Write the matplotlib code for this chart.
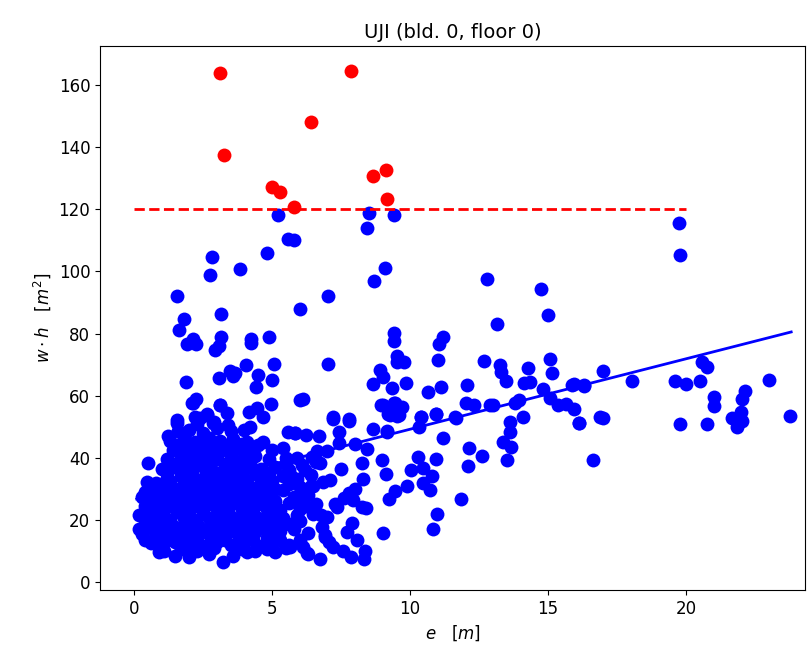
import matplotlib
matplotlib.use("Agg")
import matplotlib.pyplot as plt

# outliers above the threshold (red)
red_x = [3.10, 7.85, 6.41, 3.26, 5.00, 5.30, 5.80, 8.67, 9.14, 9.17]
red_y = [164.0, 164.5, 148.1, 137.5, 127.2, 125.7, 120.8, 130.7, 132.7, 123.3]

# sparse blue points
sparse_x = [5.22, 8.50, 8.45, 9.42, 5.58, 5.80, 2.82, 2.74, 3.83, 4.83, 1.56, 3.16, 1.81, 1.62,
            2.14, 1.93, 2.25, 3.16, 2.93, 3.08, 4.23, 4.25, 4.90, 6.01, 4.05, 5.07, 3.48, 3.66,
            3.60, 3.08, 4.50, 4.41, 5.01, 1.87, 2.24, 2.11, 3.10, 4.95, 6.01, 4.18, 4.47, 3.36,
            2.63, 2.21, 1.55, 4.69,
            9.09, 8.71, 7.02, 12.78, 9.40, 9.42, 11.18, 11.03, 9.52, 9.79, 9.54, 11.01, 12.69,
            7.03, 8.91, 9.01, 8.65, 9.35, 9.86, 10.66, 11.11, 12.05, 6.12, 8.93, 9.42, 9.70,
            12.03, 12.32, 12.90, 7.22, 7.80, 9.21, 9.52, 10.40, 10.94, 11.62,
            19.73, 19.78, 14.73, 14.99, 13.16, 15.07, 15.14, 13.26, 13.29, 13.47, 14.26, 14.13,
            14.35, 14.81, 15.07, 15.35, 15.64, 15.92, 15.95, 16.30, 17.00, 18.04, 16.12, 16.99,
            19.60, 19.99, 20.50, 20.57, 20.76, 19.77, 20.76, 20.99, 20.99, 22.13, 22.03, 22.00,
            21.67, 21.84, 22.02, 22.98, 23.77, 13.00, 13.80, 13.96, 14.10, 13.62, 13.60, 13.38,
            13.65, 13.50,
            9.01, 9.46, 9.28, 9.58, 9.16, 10.39, 10.34, 10.94, 11.67, 16.11, 15.86, 16.28, 16.62,
            16.88, 11.20, 12.15, 12.62, 12.09, 8.97, 9.13, 10.30, 10.94, 10.02, 10.48, 10.79,
            10.46, 10.72, 9.88, 9.46, 9.25, 11.84, 10.99, 10.82, 9.03,
            7.22, 7.80, 7.41, 5.83, 6.23, 6.71, 8.65, 9.16, 7.43, 8.00, 8.43, 6.64, 6.98, 6.44,
            6.74, 8.25, 7.10, 6.86, 7.79, 7.95, 8.25, 8.41, 7.34, 7.28, 6.76, 7.89, 7.71, 8.07,
            8.37, 8.33, 7.85, 7.58, 7.22, 6.80, 6.92, 7.08, 5.65, 6.26, 6.74, 6.01, 6.32, 6.13,
            0.52, 0.46, 1.24, 1.55, 2.13, 3.12, 2.39, 2.63, 2.87, 5.59, 5.83, 4.69, 4.32]
sparse_y = [118.2, 118.8, 114.0, 118.2, 110.4, 110.0, 104.5, 98.7, 100.7, 105.9, 92.0, 86.3, 84.6,
            81.1, 78.3, 76.5, 76.5, 79.0, 74.7, 76.0, 78.2, 77.0, 78.8, 87.9, 69.8, 70.2, 68.0,
            67.4, 66.3, 65.6, 66.5, 62.9, 65.0, 64.3, 58.8, 57.5, 57.0, 57.3, 58.6, 54.8, 55.9,
            54.3, 54.0, 53.2, 52.2, 53.2,
            101.2, 97.0, 92.0, 97.6, 80.1, 77.7, 78.8, 76.6, 72.8, 70.9, 70.9, 71.4, 71.2,
            70.3, 68.3, 66.1, 63.7, 62.4, 64.0, 61.1, 62.9, 63.5, 58.8, 57.1, 57.7, 56.2,
            57.5, 56.9, 57.0, 53.0, 52.6, 54.0, 53.4, 53.2, 54.1, 53.2,
            115.5, 105.2, 94.2, 86.1, 83.2, 71.8, 67.2, 69.9, 67.7, 64.8, 68.9, 64.0,
            64.3, 62.0, 59.1, 57.0, 57.3, 55.6, 63.7, 63.1, 67.9, 64.8, 51.3, 52.8,
            64.8, 63.7, 64.6, 70.9, 69.1, 51.0, 51.0, 59.5, 56.7, 61.4, 58.8, 54.7,
            52.8, 50.0, 51.9, 65.0, 53.5, 57.0, 57.5, 58.6, 53.2, 51.6, 48.4, 45.2,
            43.6, 39.3,
            57.0, 57.5, 53.8, 53.8, 48.4, 53.0, 50.0, 54.0, 52.7, 51.3, 63.4, 63.4, 39.3,
            53.0, 46.3, 43.0, 40.6, 37.3, 39.3, 34.7, 40.1, 39.6, 36.1, 36.6, 34.2,
            32.0, 29.6, 30.9, 29.3, 26.6, 26.6, 21.8, 17.0, 15.9,
            52.5, 51.8, 48.4, 48.1, 47.3, 47.0, 49.3, 48.6, 44.7, 44.3, 42.8, 42.0, 42.0, 40.3,
            38.2, 38.4, 32.8, 32.3, 28.6, 26.4, 24.0, 23.7, 24.2, 25.1, 21.6, 18.9, 16.2, 13.5,
            10.1, 7.3, 8.0, 9.8, 11.4, 17.8, 14.6, 12.7, 11.4, 9.2, 7.3, 13.5, 15.7, 11.4,
            38.4, 32.3, 47.0, 51.1, 57.5, 57.0, 52.7, 53.8, 51.1, 48.4, 47.9, 45.2, 42.0]

# dense cluster near the origin
dense_x = [0.9, 1.5, 2.0, 2.7, 3.24, 3.6, 4.1, 4.8, 5.5, 6.3,
           0.6, 1.0, 1.5, 2.0, 2.5, 3.0, 3.5, 4.0, 4.5, 5.0, 5.6,
           0.3, 0.8, 1.3, 1.7, 2.2, 2.6, 3.1, 3.5, 4.0, 4.4, 4.9, 5.3, 6.9,
           0.5, 0.9, 1.4, 1.9, 2.3, 2.8, 3.3, 3.7, 4.2, 4.6, 5.1, 5.6, 6.0,
           0.2, 0.7, 1.1, 1.6, 2.0, 2.5, 3.0, 3.4, 3.9, 4.3, 4.8, 5.2, 5.9, 6.5, 7.0,
           0.4, 0.9, 1.4, 1.8, 2.3, 2.7, 3.2, 3.6, 4.1, 4.5, 5.0, 5.6, 6.2, 6.6,
           0.3, 0.8, 1.2, 1.7, 2.1, 2.6, 3.0, 3.5, 3.9, 4.4, 4.8, 5.8, 6.3, 7.6,
           0.6, 1.0, 1.5, 2.0, 2.4, 2.9, 3.3, 3.8, 4.2, 4.7, 5.1, 5.6, 6.0, 6.5, 8.0,
           1.2, 1.7, 2.2, 2.6, 3.1, 3.5, 4.0, 4.5, 4.9, 5.4, 5.9, 6.4, 8.3,
           1.0, 1.4, 1.9, 2.4, 2.8, 3.3, 3.7, 4.2, 4.6, 5.1, 5.6, 6.1, 7.5,
           1.2, 1.7, 2.1, 2.6, 3.0, 3.5, 3.9, 4.4, 4.9, 5.5,
           1.4, 1.9, 2.3, 2.8, 3.2, 3.7, 4.3, 5.0, 5.4,
           1.3, 1.8, 2.2, 2.7, 3.1, 3.6, 4.1,
           1.6, 2.0, 2.5, 3.0, 3.5, 4.0,
           2.3, 2.9, 3.4, 4.2]
dense_y = [9.5, 8.5, 8.0, 9.0, 6.5, 8.5, 9.5, 10.5, 11.0, 9.0,
           12.5, 11.5, 13.0, 12.0, 11.5, 13.0, 12.0, 12.5, 11.5, 13.0, 12.0,
           15.5, 15.0, 16.0, 14.5, 15.5, 16.0, 15.0, 16.5, 15.0, 16.0, 15.5, 16.5, 15.0,
           18.5, 19.0, 18.0, 19.5, 18.5, 18.0, 19.0, 18.5, 19.5, 18.0, 19.0, 18.5, 19.5,
           21.5, 22.0, 21.0, 22.5, 21.5, 22.0, 21.0, 22.5, 21.5, 22.0, 21.0, 22.5, 21.5, 22.0, 21.0,
           24.5, 25.0, 24.0, 25.5, 24.5, 25.0, 24.0, 25.5, 24.5, 25.0, 24.0, 25.5, 24.5, 25.0,
           27.5, 28.0, 27.0, 28.5, 27.5, 28.0, 27.0, 28.5, 27.5, 28.0, 27.0, 27.5, 28.0, 27.0,
           30.5, 31.0, 30.0, 31.5, 30.5, 31.0, 30.0, 31.5, 30.5, 31.0, 30.0, 31.5, 30.5, 31.0, 30.0,
           33.5, 34.0, 33.0, 34.5, 33.5, 34.0, 33.0, 34.5, 33.5, 34.0, 33.0, 34.5, 33.0,
           36.5, 37.0, 36.0, 37.5, 36.5, 37.0, 36.0, 37.5, 36.5, 37.0, 36.0, 37.5, 36.5,
           39.5, 40.0, 39.0, 40.5, 39.5, 40.0, 39.0, 40.5, 39.5, 40.0,
           42.5, 43.0, 42.0, 43.5, 42.5, 43.0, 42.0, 42.5, 43.0,
           45.5, 46.0, 45.0, 46.5, 45.5, 46.0, 45.0,
           48.5, 49.0, 48.0, 49.5, 48.5, 49.0,
           51.0, 51.5, 50.5, 50.0]

# extra points filling the core of the cluster
core_x = [1.1, 1.7, 2.3, 2.9, 3.9, 4.4, 5.1,
          0.4, 0.8, 1.2, 1.8, 2.3, 2.8, 3.3, 3.8, 4.3, 4.8, 5.3,
          0.2, 0.6, 1.1, 1.6, 2.0, 2.4, 2.9, 3.3, 3.8, 4.2, 4.7, 5.2, 5.8,
          0.4, 0.9, 1.3, 1.8, 2.2, 2.7, 3.2, 3.6, 4.1, 4.5, 5.0, 5.4,
          0.6, 1.1, 1.6, 2.0, 2.5, 3.0, 3.4, 3.9, 4.3, 4.8, 5.3, 6.0,
          0.6, 1.0, 1.5, 1.9, 2.4, 2.9, 3.3, 3.8, 4.2, 4.7, 5.1, 6.0,
          0.4, 0.9, 1.3, 1.8, 2.2, 2.7, 3.1, 3.6, 4.0, 4.5, 5.0, 5.4,
          0.8, 1.3, 1.8, 2.3, 2.7, 3.2, 3.6, 4.1, 4.6, 5.0,
          1.2, 1.7, 2.1, 2.6, 3.0, 3.5, 3.9, 4.4, 4.9,
          1.5, 1.9, 2.4, 2.8, 3.3, 3.7, 4.2,
          1.7, 2.1, 2.6, 3.0, 3.5, 4.0,
          1.6, 2.0, 2.5, 2.9, 3.4, 3.9, 4.5,
          5.7, 6.2, 5.9, 6.4, 6.0, 5.5, 6.6]
core_y = [10.0, 10.5, 10.0, 11.0, 10.5, 10.0, 9.5,
          13.5, 14.0, 13.5, 14.0, 13.5, 14.0, 13.5, 14.0, 13.5, 14.0, 13.5,
          17.0, 17.5, 17.0, 17.5, 17.0, 17.5, 17.0, 17.5, 17.0, 17.5, 17.0, 17.5, 17.0,
          20.0, 20.5, 20.0, 20.5, 20.0, 20.5, 20.0, 20.5, 20.0, 20.5, 20.0, 20.5,
          23.0, 23.5, 23.0, 23.5, 23.0, 23.5, 23.0, 23.5, 23.0, 23.5, 23.0, 23.5,
          26.0, 26.5, 26.0, 26.5, 26.0, 26.5, 26.0, 26.5, 26.0, 26.5, 26.0, 26.5,
          29.0, 29.5, 29.0, 29.5, 29.0, 29.5, 29.0, 29.5, 29.0, 29.5, 29.0, 29.5,
          32.0, 32.5, 32.0, 32.5, 32.0, 32.5, 32.0, 32.5, 32.0, 32.5,
          35.0, 35.5, 35.0, 35.5, 35.0, 35.5, 35.0, 35.5, 35.0,
          38.0, 38.5, 38.0, 38.5, 38.0, 38.5, 38.0,
          41.0, 41.5, 41.0, 41.5, 41.0, 41.5,
          44.0, 44.5, 44.0, 44.5, 44.0, 44.5, 44.0,
          34.0, 36.0, 40.0, 31.0, 28.0, 38.0, 38.5]

# linear fit drawn over the blue points
fit_x = [0.1, 23.8]
fit_y = [26.7, 80.5]

# threshold line
thr_x = [0, 20]
thr_y = [120, 120]

fig = plt.figure(figsize=(8.11, 6.45), dpi=100)
ax = fig.add_axes([0.1233, 0.0853, 0.8693, 0.8434])

blue_x = sparse_x + dense_x + core_x
blue_y = sparse_y + dense_y + core_y
ax.scatter(blue_x, blue_y, s=100, c='b', linewidths=0)
ax.scatter(red_x, red_y, s=100, c='r', linewidths=0)
ax.plot(thr_x, thr_y, 'r--', lw=2)
ax.plot(fit_x, fit_y, 'b-', lw=2)

ax.set_xlim(-1.23, 24.3)
ax.set_ylim(-2.6, 172.6)
ax.set_xticks([0, 5, 10, 15, 20])
ax.set_yticks(range(0, 161, 20))
ax.tick_params(labelsize=12)
ax.set_xlabel(r'$e$   $[m]$', fontsize=12)
ax.set_ylabel(r'$w \cdot h$   $[m^2]$', fontsize=12)
ax.set_title('UJI (bld. 0, floor 0)', fontsize=14)

plt.savefig('out.png')
